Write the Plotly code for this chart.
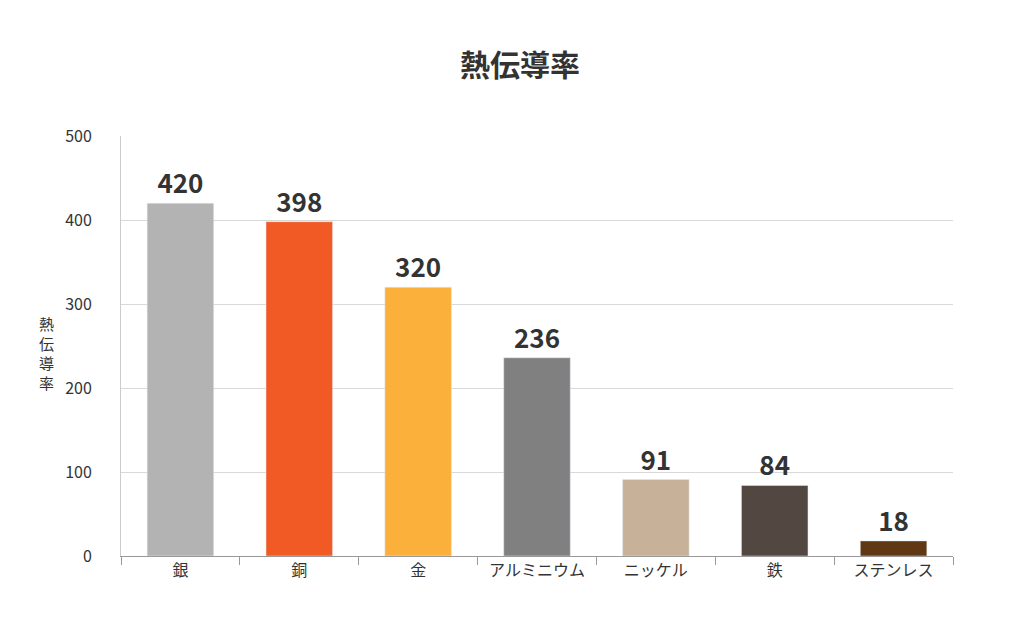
import plotly.graph_objects as go

metals = ["銀", "銅", "金", "アルミニウム", "ニッケル", "鉄", "ステンレス"]
conductivity = [420, 398, 320, 236, 91, 84, 18]
bar_colors = ["#b3b3b3", "#f15a24", "#fbb03b", "#808080", "#c7b299", "#534741", "#603813"]

font = "Noto Sans CJK JP"

fig = go.Figure(go.Bar(
    x=metals, y=conductivity, marker_color=bar_colors,
    text=conductivity, textposition="outside", cliponaxis=False,
    textfont=dict(family=font, size=26, color="#333333", weight="bold"),
))

fig.update_layout(
    width=1024, height=628,
    paper_bgcolor="white", plot_bgcolor="white",
    margin=dict(l=113, r=79, t=128, b=80),
    bargap=0.44,
    showlegend=False,
    font=dict(family=font, color="#333333"),
    title=dict(text="<b>熱伝導率</b>", x=0.5, xanchor="center", y=0.925,
               font=dict(family=font, size=30, color="#333333")),
    annotations=[dict(text="熱<br>伝<br>導<br>率", x=38, y=338, xref="paper", yref="paper",
                      showarrow=False, font=dict(family=font, size=15, color="#333333"))],
)
fig.layout.annotations[0].update(xref="paper", yref="paper",
                                 x=(38 - 113) / 832, y=(548 - 345) / 420,
                                 xanchor="center", yanchor="middle")

fig.update_xaxes(showline=True, linecolor="#999999", ticks="outside", tickson="boundaries",
                 tickcolor="#999999", ticklen=8, tickfont=dict(size=16, color="#333333"))
fig.update_yaxes(range=[0, 500], dtick=100, showgrid=True, gridcolor="#d9d9d9",
                 showline=True, linecolor="#cccccc", zeroline=False,
                 tickfont=dict(size=16, color="#333333"), ticklabelstandoff=25)

fig.write_html("out.html")
